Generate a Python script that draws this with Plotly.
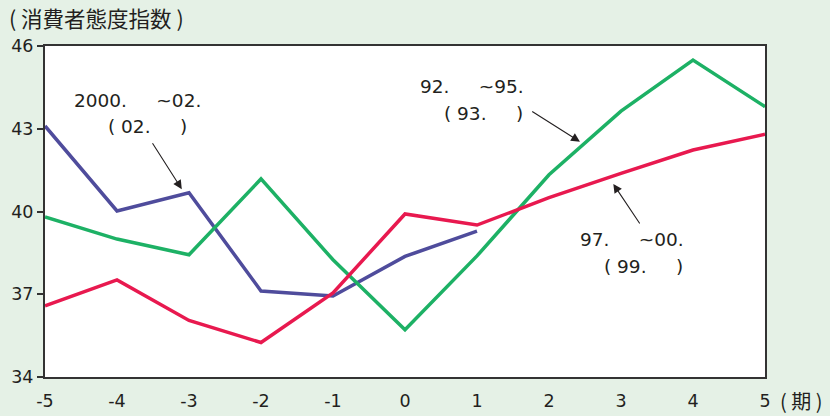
import plotly.graph_objects as go

# Period offsets around the turning point
periods = [-5, -4, -3, -2, -1, 0, 1, 2, 3, 4, 5]
period_labels = ["-5", "-4", "-3", "-2", "-1", "0", "1", "2", "3", "4", "5"]

# Consumer confidence index by period, three episodes
series_2000 = [43.1, 40.02, 40.68, 37.12, 36.94, 38.37, 39.29]
series_92 = [39.8, 39.0, 38.43, 41.18, 38.25, 35.71, 38.39, 41.33, 43.64, 45.49, 43.8]
series_97 = [36.58, 37.52, 36.05, 35.25, 37.05, 39.91, 39.51, 40.5, 41.38, 42.23, 42.8]

y_ticks = [34, 37, 40, 43, 46]

BG = "#e5f1e6"
TXT = "#231f20"
FONT = "DejaVu Sans, sans-serif"
CJK = "Noto Sans CJK JP, sans-serif"
NB = "\u00a0"

fig = go.Figure()
fig.add_trace(go.Scatter(x=periods[:len(series_2000)], y=series_2000, mode="lines",
                         line=dict(color="#4f4c9c", width=3.5)))
fig.add_trace(go.Scatter(x=periods, y=series_92, mode="lines",
                         line=dict(color="#1db165", width=3.5)))
fig.add_trace(go.Scatter(x=periods, y=series_97, mode="lines",
                         line=dict(color="#e8194f", width=3.5)))

annos = []
# arrows pointing at each series
for (x, y, ax, ay) in [(-3.10, 40.81, -3.52, 42.53),
                       (2.43, 42.53, 1.746, 43.66),
                       (2.893, 41.0, 3.274, 39.51)]:
    annos.append(dict(x=x, y=y, ax=ax, ay=ay, xref="x", yref="y", axref="x", ayref="y",
                      text="", showarrow=True, arrowhead=2, arrowsize=1.6,
                      arrowwidth=1.1, arrowcolor=TXT))

gap = NB * 5
labels = [
    (-3.715, 44.04, "2000." + gap + "~02."),
    (-3.57, 43.08, "(" + NB + "02." + gap + ")"),
    (0.931, 44.55, "92." + gap + "~95."),
    (1.094, 43.57, "(" + NB + "93." + gap + ")"),
    (3.153, 38.97, "97." + gap + "~00."),
    (3.319, 37.99, "(" + NB + "99." + gap + ")"),
]
for x, y, t in labels:
    annos.append(dict(x=x, y=y, xref="x", yref="y", text=t, showarrow=False,
                      xanchor="center", yanchor="middle",
                      font=dict(family=FONT, size=18.5, color=TXT)))

annos.append(dict(x=-0.0528, y=1.0846, xref="paper", yref="paper",
                  text="(" + NB + "消費者態度指数" + NB + ")", showarrow=False,
                  xanchor="left", yanchor="middle",
                  font=dict(family=CJK, size=21.5, color=TXT)))
annos.append(dict(x=1.018, y=-0.0695, xref="paper", yref="paper",
                  text="(" + NB + "期" + NB + ")", showarrow=False,
                  xanchor="left", yanchor="middle",
                  font=dict(family=CJK, size=20, color=TXT)))

fig.update_layout(
    width=830, height=416,
    margin=dict(l=45, r=65, t=46, b=39),
    paper_bgcolor=BG, plot_bgcolor="white",
    showlegend=False,
    annotations=annos,
    font=dict(family=FONT, size=17, color=TXT),
)
fig.update_xaxes(range=[-5, 5], tickvals=periods, ticktext=period_labels, ticks="",
                 showgrid=False, zeroline=False, automargin=False,
                 showline=True, mirror=True, linecolor="#333333", linewidth=2,
                 ticklabelstandoff=7, tickfont=dict(size=17.5))
fig.update_yaxes(range=[34, 46], tickvals=y_ticks, ticks="outside", ticklen=6,
                 tickcolor="#333333", tickwidth=1.5, showgrid=False, zeroline=False,
                 automargin=False,
                 showline=True, mirror=True, linecolor="#333333", linewidth=2,
                 tickfont=dict(size=17.5))

fig.write_html("out.html")
